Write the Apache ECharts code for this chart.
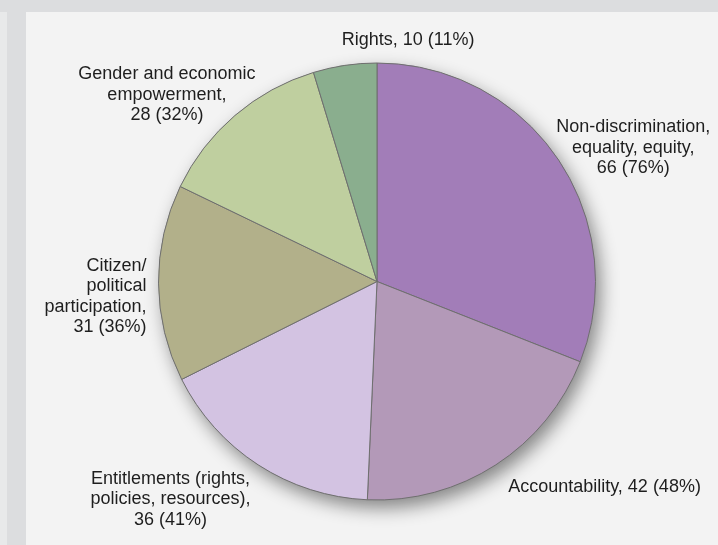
<!DOCTYPE html>
<html>
<head>
<meta charset="utf-8">
<script src="https://cdn.jsdelivr.net/npm/echarts@6/dist/echarts.min.js"></script>
<style>
  html, body { margin:0; padding:0; width:718px; height:545px; overflow:hidden; background:#dcdddf; }
  #strip { position:absolute; left:0; top:12px; width:7px; height:533px; background:#e8e9ea; }
  #panel { position:absolute; left:26px; top:12px; width:692px; height:533px; background:#f3f3f3; }
  #chart { position:absolute; left:0; top:0; width:718px; height:545px; }
</style>
</head>
<body>
<div id="strip"></div>
<div id="panel"></div>
<div id="chart"></div>
<script>
// ---- data ----
const categories = [
  'Non-discrimination,\nequality, equity',
  'Accountability',
  'Entitlements (rights,\npolicies, resources)',
  'Citizen/\npolitical\nparticipation',
  'Gender and economic\nempowerment',
  'Rights'
];
const values = [66, 42, 36, 31, 28, 10];
const percents = [76, 48, 41, 36, 32, 11];

// ---- styles / layout ----
const colors = ['#a27db8', '#b399b8', '#d3c3e2', '#b2b08a', '#bfcf9f', '#8aae8e'];
const labelBreak = ['\n', ' ', '\n', '\n', '\n', ' '];
const labelAlign = ['center', 'center', 'center', 'right', 'center', 'center'];
const labelNudge = [[26, 23], [76, -28], [-55, -16], [48, 13], [-29, 25], [72, 34]];
const CX = 377, CY = 281.5, R = 218.5, GAP = 60;

const total = values.reduce((a, b) => a + b, 0);
const midAngles = [];
let acc = 0;
values.forEach(v => { midAngles.push((acc + v / 2) / total * 2 * Math.PI); acc += v; });

const chart = echarts.init(document.getElementById('chart'), null, { renderer: 'canvas' });
chart.setOption({
  animation: false,
  backgroundColor: 'transparent',
  series: [
    {
      type: 'pie',
      silent: true,
      center: [CX, CY],
      radius: R,
      startAngle: 90,
      label: { show: false },
      labelLine: { show: false },
      itemStyle: {
        color: '#9a9a9a',
        shadowBlur: 18,
        shadowOffsetX: 5,
        shadowOffsetY: 8,
        shadowColor: 'rgba(0,0,0,0.45)'
      },
      data: [{ value: total, name: 'all' }],
      z: 1
    },
    {
      type: 'pie',
      center: [CX, CY],
      radius: R,
      startAngle: 90,
      clockwise: true,
      avoidLabelOverlap: false,
      emphasis: { disabled: true },
      itemStyle: { borderColor: '#6f6f6f', borderWidth: 1 },
      label: {
        show: true,
        position: 'outside',
        fontFamily: 'Liberation Sans, Arial, sans-serif',
        fontSize: 18,
        lineHeight: 20.5,
        color: '#1e1e1e',
        formatter: p => p.name + ',' + labelBreak[p.dataIndex] + p.value + ' (' + percents[p.dataIndex] + '%)'
      },
      labelLine: { show: false },
      labelLayout: function (params) {
        const i = params.dataIndex;
        const a = midAngles[i];
        return {
          x: CX + (R + GAP) * Math.sin(a) + labelNudge[i][0],
          y: CY - (R + GAP) * Math.cos(a) + labelNudge[i][1],
          align: labelAlign[i],
          verticalAlign: 'middle'
        };
      },
      data: categories.map((c, i) => ({ name: c, value: values[i], itemStyle: { color: colors[i] } })),
      z: 2
    }
  ]
});
</script>
</body>
</html>
